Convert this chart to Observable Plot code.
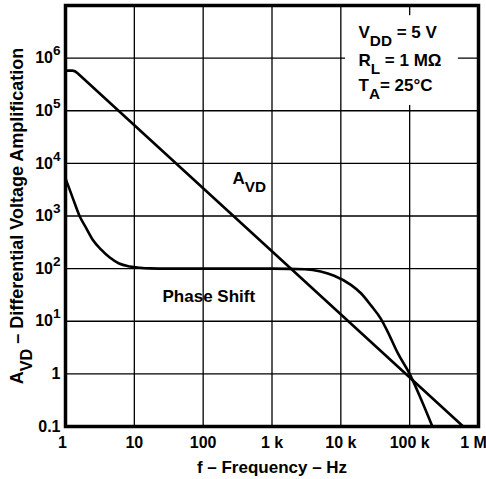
<!DOCTYPE html>
<html><head><meta charset="utf-8">
<script src="https://cdn.jsdelivr.net/npm/d3@7"></script>
<script src="https://cdn.jsdelivr.net/npm/@observablehq/plot@0.6"></script>
<style>
body{margin:0;background:#fff;}
</style>
</head><body><div id="chart"></div>
<script>
// A_VD curve (frequency Hz, gain)
const avdFreq = [1, 1.25, 1.38, 1.5, 6.0e5];
const avdGain = [5.8e5, 5.8e5, 5.6e5, 5.15e5, 0.1];
// Phase shift curve (frequency Hz, value on same axis)
const phaseFreq = [1, 1.3, 1.6, 2.0, 2.5, 3.3, 4.4, 6.0, 8.6, 12, 17, 30, 100, 1000, 3000, 5100, 8000, 14000, 19600, 27400, 38400, 48000, 67000, 102000, 148000, 214000];
const phaseVal = [5200, 2050, 1000, 590, 350, 230, 162, 125, 110, 104, 101, 100, 100, 100, 97, 88, 73, 49, 34, 20, 11, 6.3, 2.5, 0.95, 0.32, 0.1];
// ticks
const xTicks = [1, 10, 100, 1e3, 1e4, 1e5, 1e6];
const xTickLabels = ["1", "10", "100", "1 k", "10 k", "100 k", "1 M"];
const yTicks = [0.1, 1, 10, 100, 1e3, 1e4, 1e5, 1e6];
const yTickLabels = ["0.1", "1", "10^{1}", "10^{2}", "10^{3}", "10^{4}", "10^{5}", "10^{6}"];
// texts
const xTitle = "f – Frequency – Hz";
const yTitle = "A_{VD} – Differential Voltage Amplification";
const condLines = ["V_{DD} = 5 V", "R_{L} = 1 MΩ", "T_{A}= 25°C"];
const curveLabels = ["A_{VD}", "Phase Shift"];

const avd = avdFreq.map((f, i) => ({f, v: avdGain[i]}));
const phase = phaseFreq.map((f, i) => ({f, v: phaseVal[i]}));

const font = "'Liberation Sans', Arial, Helvetica, sans-serif";
const condDy = [32, 60, 85];

const chart = Plot.plot({
  width: 486, height: 479,
  marginLeft: 65, marginRight: 8, marginTop: 5, marginBottom: 53,
  style: {fontFamily: font, fontWeight: "bold", background: "#fff", color: "#000", overflow: "visible"},
  x: {type: "log", domain: [1, 1e6]},
  y: {type: "log", domain: [0.1, 1e7]},
  marks: [
    Plot.ruleX(xTicks, {stroke: "#000", strokeWidth: 1.3}),
    Plot.ruleY(yTicks, {stroke: "#000", strokeWidth: 1.3}),
    // white box behind the conditions text
    Plot.rect([0], {x1: 1.17e4, x2: 5.1e5, y1: 1.26e5, y2: 6.4e6, fill: "#fff"}),
    Plot.line(avd, {x: "f", y: "v", stroke: "#000", strokeWidth: 2.6, strokeLinejoin: "round"}),
    Plot.line(phase, {x: "f", y: "v", stroke: "#000", strokeWidth: 2.6, curve: "monotone-x"}),
    Plot.frame({stroke: "#000", strokeWidth: 3.5}),
    Plot.axisX({ticks: xTicks, tickFormat: d => xTickLabels[xTicks.indexOf(d)], tickSize: 0, tickPadding: 10, fontSize: 16, label: null}),
    Plot.axisY({ticks: yTicks, tickFormat: d => yTickLabels[yTicks.indexOf(d)], tickSize: 0, tickPadding: 5, fontSize: 16, label: null}),
    Plot.text([xTitle], {text: d => d, frameAnchor: "bottom", dy: 46, lineAnchor: "bottom", fontSize: 17}),
    Plot.text([yTitle], {text: d => d, frameAnchor: "left", dx: -43, rotate: -90, textAnchor: "middle", lineAnchor: "bottom", fontSize: 18}),
    ...condLines.map((line, i) => Plot.text([line], {text: d => d, frameAnchor: "top-left", dx: 293, dy: condDy[i], lineAnchor: "bottom", textAnchor: "start", fontSize: 17})),
    Plot.text([curveLabels[0]], {text: d => d, frameAnchor: "top-left", dx: 167, dy: 178, lineAnchor: "bottom", textAnchor: "start", fontSize: 17}),
    Plot.text([curveLabels[1]], {text: d => d, frameAnchor: "top-left", dx: 97, dy: 296, lineAnchor: "bottom", textAnchor: "start", fontSize: 17})
  ]
});
document.getElementById("chart").appendChild(chart);

// nudge end x tick labels like the reference
chart.querySelectorAll('g[aria-label="x-axis tick label"] text').forEach(t => {
  if (t.textContent === "1 M") t.setAttribute("dx", "-5");
  if (t.textContent === "1") t.setAttribute("dx", "-3");
});

// rich text: _{sub} and ^{sup}
(function(){
  const ns = "http://www.w3.org/2000/svg";
  chart.querySelectorAll("text").forEach(t => {
    const s = t.textContent;
    if (!/[_^]\{/.test(s)) return;
    const fs = parseFloat(getComputedStyle(t).fontSize) || 16;
    const parts = s.split(/([_^]\{[^}]*\})/).filter(p => p !== "");
    t.textContent = "";
    let cur = 0;
    parts.forEach(p => {
      const ts = document.createElementNS(ns, "tspan");
      let target = 0, size = null, txt = p;
      if (p.startsWith("_{")) { target = 0.5 * fs; size = 0.9 * fs; txt = p.slice(2, -1); }
      else if (p.startsWith("^{")) { target = -0.5 * fs; size = 0.85 * fs; txt = p.slice(2, -1); }
      if (target !== cur) ts.setAttribute("dy", (target - cur).toFixed(2));
      cur = target;
      if (size) ts.setAttribute("font-size", size.toFixed(2));
      ts.textContent = txt;
      t.appendChild(ts);
    });
  });
})();
</script>
</body></html>
